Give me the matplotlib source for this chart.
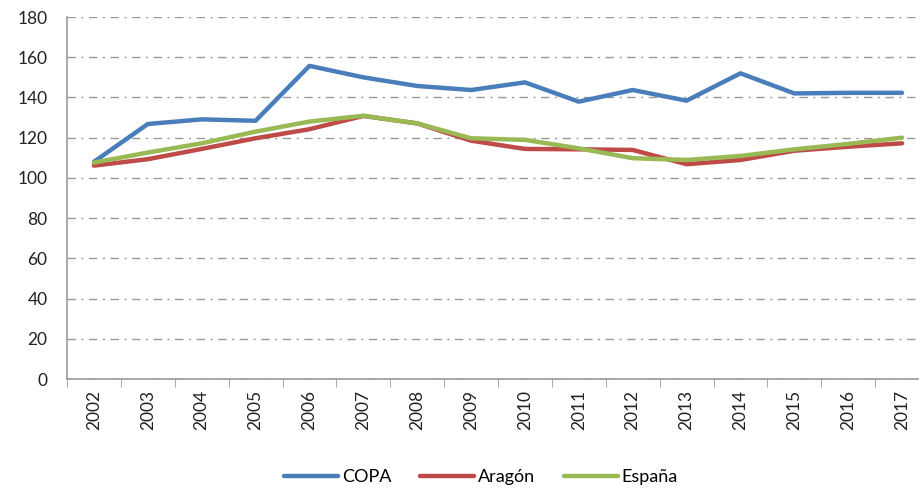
import matplotlib.pyplot as plt
import numpy as np

plt.rcParams['font.family'] = ['Lato', 'DejaVu Sans']

years = [str(y) for y in range(2002, 2018)]
copa = [108.0, 126.8, 129.1, 128.4, 155.7, 150.0, 145.7, 143.7,
        147.5, 137.9, 143.7, 138.4, 152.0, 142.0, 142.3, 142.3]
aragon = [106.1, 109.3, 114.4, 119.7, 124.2, 130.8, 127.1, 118.5,
          114.4, 114.2, 113.9, 106.8, 108.9, 113.5, 115.5, 117.2]
espana = [107.6, 112.6, 117.2, 123.0, 128.0, 130.9, 127.1, 119.7,
          118.9, 114.7, 109.8, 108.9, 110.9, 114.2, 116.9, 120.0]

W, H = 920, 488
fig = plt.figure(figsize=(W / 100, H / 100), dpi=100)
ax = fig.add_axes([67 / W, (H - 379) / H, (929 - 67) / W, (379 - 17) / H])

x = np.arange(len(years))
ax.plot(x, copa, color='#4A7EBB', lw=3.2, label='COPA', solid_capstyle='round')
ax.plot(x, aragon, color='#BE4B48', lw=3.2, label='Aragón', solid_capstyle='round')
ax.plot(x, espana, color='#98B954', lw=3.2, label='España', solid_capstyle='round')

ax.set_xlim(-0.5, len(years) - 0.5)
ax.set_ylim(0, 180)
ax.set_yticks(range(0, 181, 20))
ax.set_xticks(x)
ax.set_xticklabels(years, rotation=90)
ax.set_xticks(np.arange(-0.5, len(years), 1), minor=True)
ax.tick_params(axis='x', which='major', length=0, pad=8, labelsize=12.5, colors='#222222')
ax.tick_params(axis='x', which='minor', length=6, color='#999999')
ax.tick_params(axis='y', length=0, pad=14, labelsize=12.5, colors='#222222')

ax.grid(axis='y', color='#999999', ls=(0, (6, 4, 1.5, 4)), lw=1)
ax.set_axisbelow(True)
for s in ['top', 'right']:
    ax.spines[s].set_visible(False)
for s in ['left', 'bottom']:
    ax.spines[s].set_color('#999999')
    ax.spines[s].set_linewidth(1.2)

ax.legend(loc='center', bbox_to_anchor=(481 / W, 11 / H), bbox_transform=fig.transFigure,
          ncol=3, frameon=False, fontsize=13, handlelength=3.0, handletextpad=0.2,
          columnspacing=1.6)

fig.savefig('out.png', dpi=100)
